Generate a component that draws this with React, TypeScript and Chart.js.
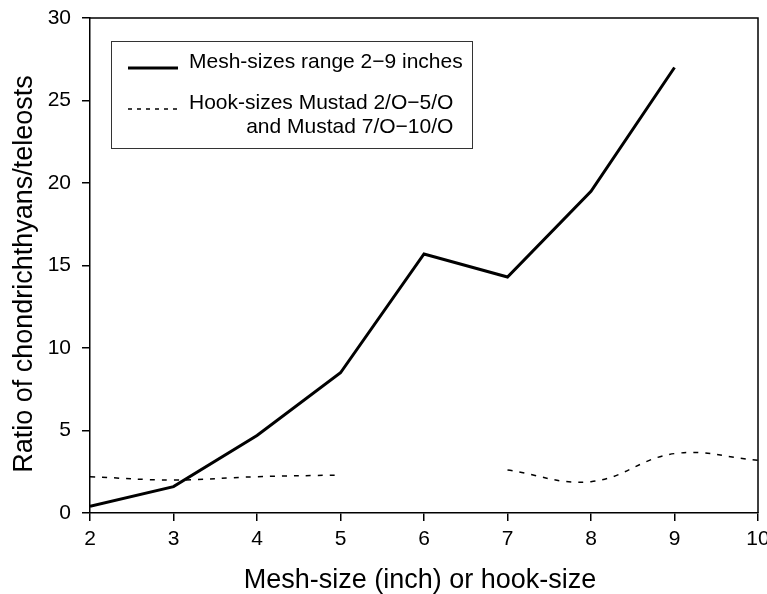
import React, { useEffect, useRef } from "react";
import { Chart, registerables } from "chart.js";

Chart.register(...registerables);

const xValues = [2, 3, 4, 5, 6, 7, 8, 9, 10];
const meshRatio = [0.4, 1.6, 4.7, 8.5, 15.7, 14.3, 19.5, 27.0, null];
const hookRatio = [2.2, 2.0, 2.2, 2.3, null, 2.6, 1.9, 3.6, 3.2];
const meshLabel = "Mesh-sizes range 2\u22129 inches";
const hookLabel1 = "Hook-sizes Mustad 2/O\u22125/O";
const hookLabel2 = "and Mustad 7/O\u221210/O";
const xTitle = "Mesh-size (inch) or hook-size";
const yTitle = "Ratio of chondrichthyans/teleosts";

const FONT = "'Liberation Sans', Arial, sans-serif";

const framePlugin = {
  id: "frameAndLegend",
  afterDraw(chart: any) {
    const { ctx, chartArea } = chart;
    const { left, right, top, bottom } = chartArea;
    ctx.save();
    ctx.strokeStyle = "#000";
    ctx.lineWidth = 1.5;
    ctx.setLineDash([]);
    ctx.beginPath();
    ctx.moveTo(left, top);
    ctx.lineTo(right, top);
    ctx.lineTo(right, bottom);
    ctx.stroke();

    // axis titles
    ctx.fillStyle = "#000";
    ctx.font = `27px ${FONT}`;
    ctx.textAlign = "center";
    ctx.textBaseline = "alphabetic";
    ctx.fillText(xTitle, (left + right) / 2 - 4, 588);
    ctx.save();
    ctx.translate(32, 274);
    ctx.rotate(-Math.PI / 2);
    ctx.fillText(yTitle, 0, 0);
    ctx.restore();

    // legend box
    const bx = left + 21;
    const by = top + 23;
    const bw = 361;
    const bh = 107;
    ctx.lineWidth = 1;
    ctx.strokeStyle = "#333";
    ctx.strokeRect(bx + 0.5, by + 0.5, bw, bh);

    ctx.strokeStyle = "#000";
    ctx.lineWidth = 3;
    ctx.beginPath();
    ctx.moveTo(bx + 17, by + 27);
    ctx.lineTo(bx + 67, by + 27);
    ctx.stroke();

    ctx.lineWidth = 1.5;
    ctx.setLineDash([4, 5]);
    ctx.beginPath();
    ctx.moveTo(bx + 17, by + 68);
    ctx.lineTo(bx + 70, by + 68);
    ctx.stroke();
    ctx.setLineDash([]);

    ctx.fillStyle = "#000";
    ctx.font = `21px ${FONT}`;
    ctx.textBaseline = "middle";
    ctx.textAlign = "left";
    ctx.fillText(meshLabel, bx + 78, by + 21);
    ctx.fillText(hookLabel1, bx + 78, by + 62);
    ctx.textAlign = "right";
    const w1 = ctx.measureText(hookLabel1).width;
    ctx.fillText(hookLabel2, bx + 78 + w1, by + 86);
    ctx.restore();
  },
};

export default function App() {
  const canvasRef = useRef<HTMLCanvasElement | null>(null);

  useEffect(() => {
    document.body.style.margin = "0";
    const canvas = canvasRef.current;
    if (!canvas) return;
    const chart = new Chart(canvas, {
      type: "line",
      data: {
        datasets: [
          {
            label: meshLabel,
            data: xValues.map((x, i) => ({ x, y: meshRatio[i] })),
            borderColor: "#000",
            borderWidth: 3,
            pointRadius: 0,
            tension: 0,
            spanGaps: false,
          },
          {
            label: hookLabel1,
            data: xValues.map((x, i) => ({ x, y: hookRatio[i] })),
            borderColor: "#000",
            borderWidth: 1.5,
            borderDash: [5, 7],
            pointRadius: 0,
            tension: 0.4,
            spanGaps: false,
          },
        ],
      },
      options: {
        responsive: false,
        animation: false,
        layout: { padding: { top: 18, right: 9, left: 0, bottom: 0 } },
        plugins: { legend: { display: false }, tooltip: { enabled: false } },
        scales: {
          x: {
            type: "linear",
            min: 2,
            max: 10,
            ticks: {
              stepSize: 1,
              color: "#000",
              font: { family: FONT, size: 21 },
              padding: 6,
              maxRotation: 0,
            },
            grid: { drawOnChartArea: false, drawTicks: true, tickLength: 8, color: "#000", lineWidth: 1.5 },
            border: { display: true, color: "#000", width: 1.5 },
            title: { display: false },
            afterFit: (scale: any) => {
              scale.height = 81;
              scale.paddingRight = 0;
              scale.paddingLeft = 0;
            },
          },
          y: {
            min: 0,
            max: 30,
            ticks: {
              stepSize: 5,
              color: "#000",
              font: { family: FONT, size: 21 },
              padding: 11,
            },
            grid: { drawOnChartArea: false, drawTicks: true, tickLength: 8, color: "#000", lineWidth: 1.5 },
            border: { display: true, color: "#000", width: 1.5 },
            title: { display: false },
            afterFit: (scale: any) => {
              scale.width = 90;
              scale.paddingTop = 0;
              scale.paddingBottom = 0;
            },
          },
        },
      },
      plugins: [framePlugin],
    });
    return () => chart.destroy();
  }, []);

  return (
    <div style={{ position: "absolute", left: 0, top: 0, width: 767, height: 594 }}>
      <canvas ref={canvasRef} width={767} height={594} style={{ width: 767, height: 594 }} />
    </div>
  );
}
